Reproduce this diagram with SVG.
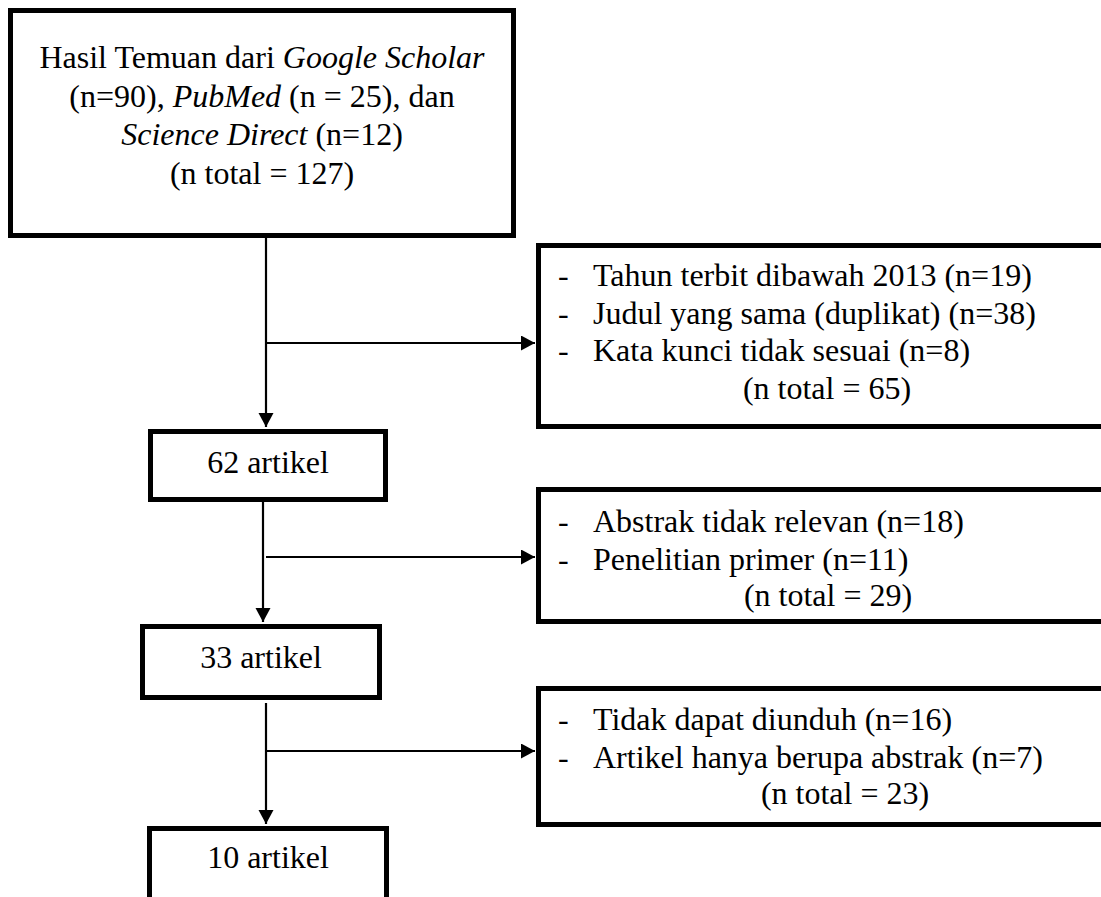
<svg xmlns="http://www.w3.org/2000/svg" width="1101" height="897" viewBox="0 0 1101 897">
  <style>
    .box { fill: #fff; stroke: #000; stroke-width: 5; }
    .t { font-family: "Liberation Serif", "Times New Roman", serif; font-size: 32px; fill: #000; }
    .c { text-anchor: middle; }
    .con { stroke: #000; stroke-width: 2.2; fill: none; }
  </style>
  <defs>
    <marker id="arr" markerUnits="userSpaceOnUse" markerWidth="15" markerHeight="16" refX="14" refY="7.5" orient="auto">
      <path d="M0,0 L14,7.5 L0,15 Z" fill="#000"/>
    </marker>
  </defs>
  <rect width="1101" height="897" fill="#fff"/>

  <g id="connectors">
    <line class="con" x1="266" y1="238" x2="266" y2="427" marker-end="url(#arr)"/>
    <line class="con" x1="266" y1="343" x2="535" y2="343" marker-end="url(#arr)"/>
    <line class="con" x1="263" y1="502" x2="263" y2="622" marker-end="url(#arr)"/>
    <line class="con" x1="266" y1="557" x2="535" y2="557" marker-end="url(#arr)"/>
    <line class="con" x1="266" y1="703" x2="266" y2="824" marker-end="url(#arr)"/>
    <line class="con" x1="266" y1="751" x2="535" y2="751" marker-end="url(#arr)"/>
  </g>

  <g id="node-sources">
    <rect class="box" x="10.5" y="10.5" width="503" height="225"/>
    <text class="t c" x="262" y="68">Hasil Temuan dari <tspan font-style="italic">Google Scholar</tspan></text>
    <text class="t c" x="262" y="106.5">(n=90), <tspan font-style="italic">PubMed</tspan> (n = 25), dan</text>
    <text class="t c" x="262" y="145"><tspan font-style="italic">Science Direct</tspan> (n=12)</text>
    <text class="t c" x="262" y="183.5">(n total = 127)</text>
  </g>

  <g id="node-excl1">
    <rect class="box" x="538.5" y="245.5" width="600" height="181"/>
    <text class="t" x="558" y="286">-</text>
    <text class="t" x="593" y="286">Tahun terbit dibawah 2013 (n=19)</text>
    <text class="t" x="558" y="323.5">-</text>
    <text class="t" x="593" y="323.5">Judul yang sama (duplikat) (n=38)</text>
    <text class="t" x="558" y="361">-</text>
    <text class="t" x="593" y="361">Kata kunci tidak sesuai (n=8)</text>
    <text class="t c" x="827" y="398.5">(n total = 65)</text>
  </g>

  <g id="node-62">
    <rect class="box" x="150.5" y="431.5" width="235" height="68"/>
    <text class="t c" x="268" y="473">62 artikel</text>
  </g>

  <g id="node-excl2">
    <rect class="box" x="538.5" y="489.5" width="600" height="132"/>
    <text class="t" x="558" y="532">-</text>
    <text class="t" x="593" y="532">Abstrak tidak relevan (n=18)</text>
    <text class="t" x="558" y="569.5">-</text>
    <text class="t" x="593" y="569.5">Penelitian primer (n=11)</text>
    <text class="t c" x="828" y="606">(n total = 29)</text>
  </g>

  <g id="node-33">
    <rect class="box" x="142.5" y="626.5" width="237" height="71"/>
    <text class="t c" x="261" y="668">33 artikel</text>
  </g>

  <g id="node-excl3">
    <rect class="box" x="538.5" y="688.5" width="600" height="136"/>
    <text class="t" x="558" y="730">-</text>
    <text class="t" x="593" y="730">Tidak dapat diunduh (n=16)</text>
    <text class="t" x="558" y="767.5">-</text>
    <text class="t" x="593" y="767.5">Artikel hanya berupa abstrak (n=7)</text>
    <text class="t c" x="845" y="804">(n total = 23)</text>
  </g>

  <g id="node-10">
    <rect class="box" x="149.5" y="828.5" width="237" height="100"/>
    <text class="t c" x="268" y="868">10 artikel</text>
  </g>
</svg>
